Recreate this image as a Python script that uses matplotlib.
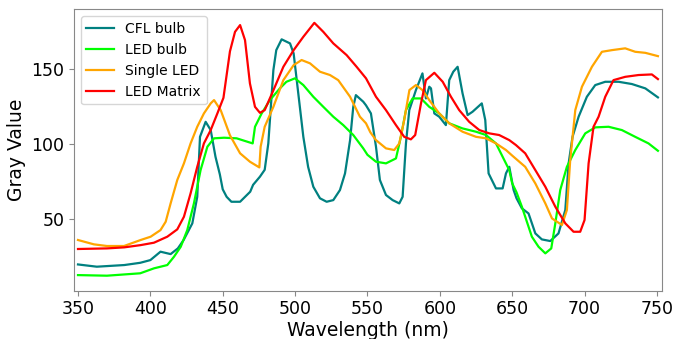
import matplotlib
matplotlib.use("Agg")
import matplotlib.pyplot as plt

cfl_wl = [350, 363, 382, 393, 400, 407, 414, 419, 423, 429, 432.4, 434.3, 438.2, 441.7, 445, 448, 450,
          452.7, 456, 462, 469, 471, 475.7, 479, 481.5, 485, 487, 490.7, 496.5, 499, 502.2, 505.7, 509,
          512.6, 517.2, 521.8, 526.4, 531, 534.5, 538, 540.2, 542, 547.1, 549, 552.4, 555.9, 558.6, 562.8,
          567.4, 572, 574.3, 576.6, 578.9, 583.5, 588, 590.4, 592.7, 593.9, 596.2, 599.6, 604.2, 606.5,
          609.3, 612.3, 615.7, 619.2, 622.6, 629, 631.4, 633.7, 638.8, 643.4, 645.7, 648, 651, 653, 656.7,
          661.3, 666, 670.5, 676.3, 682, 686.7, 689, 691.7, 695.9, 701.6, 707.4, 714.3, 723.5, 732.7, 742, 750.7]
cfl_val = [19.9, 18.4, 19.5, 21, 22.8, 28.4, 26.8, 30.6, 36.2, 47.3, 65, 105, 115, 109.5, 91.7, 80, 70,
           65, 61.7, 61.7, 68.4, 73, 78.4, 83, 100.6, 149.5, 162.8, 170, 167.3, 160.6, 134, 105, 85,
           71.7, 64, 61.7, 62.8, 69.5, 80.6, 102.8, 125, 132.8, 128.4, 126, 120.6, 98.4, 76.2, 66.2,
           62.8, 60.6, 65, 100.6, 122.8, 136.2, 147.3, 130.6, 138.4, 137.3, 120.6, 118.4, 112.8, 142.8,
           148.4, 151.7, 134, 119.5, 121.7, 127.3, 116.2, 80.6, 70.6, 70.6, 80.6, 85, 69.5, 64, 57.3,
           53.9, 40.6, 36.6, 35.5, 40.6, 56.2, 87.3, 105, 118.4, 131.7, 139.5, 141.7, 141.7, 140.2, 137.3, 131.3]

ledb_wl = [350, 370, 393, 402.5, 411.7, 416.3, 421, 425.5, 430.1, 434.7, 439.4, 444, 450.9, 459.6, 470.7,
           472.3, 476.9, 482.6, 489.5, 494, 499.9, 505.7, 512.6, 519.5, 526.4, 533.3, 540.2, 547.1, 550,
           555.9, 562.8, 569.7, 573.1, 576.6, 581.2, 587, 592.7, 599.6, 606.5, 615.7, 625, 631.9, 638.8,
           643.4, 648, 650, 653, 656.7, 663.6, 668.2, 672.9, 677, 679.8, 683.2, 687.8, 693.6, 700.5, 707.4,
           716.6, 725.8, 735, 744.2, 750.7]
ledb_val = [12.8, 12.4, 14, 17.3, 19.5, 25, 31.7, 42.8, 60.6, 82.8, 98.4, 104, 104.4, 104, 100.6,
            111.7, 120.6, 129.5, 137.3, 141.7, 144, 139.5, 131.7, 125, 118.4, 112.8, 106.2, 97.3, 93,
            88.4, 87.3, 90.6, 105, 122.8, 130.6, 130.6, 125, 120.6, 114, 110.6, 108.4, 106.2, 100.6,
            91.7, 82.8, 74, 68, 58.4, 38.4, 31.7, 27.3, 30.6, 47.3, 69.5, 85, 96.2, 107.3, 111.3,
            111.7, 109.5, 105, 100.6, 95.7]

single_wl = [350, 361, 370, 381.8, 393.3, 400.2, 407, 410.6, 414, 418.6, 423.2, 427.8, 432.4, 437, 441.7,
             444, 448.6, 455, 462, 468.8, 475.3, 476.2, 479, 485, 491.9, 499, 504.5, 510.3, 517.2, 524.1,
             529.8, 538, 544.8, 549, 552, 555.9, 562.8, 568.5, 572, 575.4, 579, 583.5, 588, 592.7, 599.6,
             606.5, 615.7, 625, 631.9, 638.8, 645.7, 650, 659, 666, 672.9, 677.5, 684.4, 687.8, 690.1,
             693.6, 698.2, 705.1, 712, 718.9, 728.1, 735, 742, 750.7]
single_val = [36.2, 33.3, 32.2, 32.2, 36.2, 38.4, 42.8, 48.4, 60.6, 76.2, 87.3, 100.6, 111.7, 120.6, 127.3,
              129.5, 122.8, 106, 94, 88.4, 84.6, 98.4, 111.7, 125, 142.8, 152.8, 156.2, 154, 148.4, 146.2,
              142.8, 131.7, 118.4, 114, 108, 102.8, 97.3, 96.2, 100.6, 116.2, 136.2, 139.5, 136.2, 129.5, 120.6,
              114, 108.4, 105, 104, 100.6, 96.2, 92.5, 85, 73.9, 60.6, 50.6, 46.2, 56.2, 89.5,
              122.8, 138.4, 151.7, 161.7, 162.8, 164, 161.7, 161, 158.8]

matrix_wl = [350, 370, 382, 393.3, 402.5, 411.7, 418.6, 423.2, 427.8, 432.4, 437, 441.7, 446.3, 450.5,
             455, 458.5, 462, 465.4, 468.8, 472.3, 475.7, 479, 485, 491.9, 499, 505.7, 513.3, 519.5,
             526.4, 535.6, 542.5, 549, 555.9, 562.8, 569.7, 575.4, 580, 583, 587, 590.4, 596.2, 602,
             607.7, 613.4, 620.3, 627.3, 634.2, 641, 648, 652.6, 659, 666, 672.9, 679.8, 686.7, 692.4,
             697, 700, 702.8, 706.2, 709.7, 714.3, 720, 728.1, 737.3, 746.5, 750.7]
matrix_val = [30.2, 30.6, 31.3, 32.8, 34.4, 38.4, 43.3, 51.7, 67.3, 85, 100.6, 109.5, 120.6, 131,
              162, 175, 179.5, 169.5, 140.6, 125, 121, 122.8, 136, 151.7, 162.8, 171.7, 181, 175,
              167.3, 159.5, 151.7, 144, 131.7, 122.8, 112.8, 105, 103.3, 106.2, 127.3, 142.8, 147.7, 141.7,
              131.7, 122.8, 115, 109.5, 107.3, 106.2, 102.8, 99.5, 94, 82.8, 71.7, 58.4, 47.3, 41.7,
              41.7, 49.5, 87.3, 111.7, 118.4, 131.7, 142.8, 145, 146.2, 146.6, 143.5]

labels = ["CFL bulb", "LED bulb", "Single LED", "LED Matrix"]
colors = ["#008080", "#00ff00", "#ffa500", "#ff0000"]

fig = plt.figure(figsize=(6.91, 3.39), dpi=100)
ax = fig.add_axes([0.107, 0.1425, 0.851, 0.8295])

series = [(cfl_wl, cfl_val), (ledb_wl, ledb_val), (single_wl, single_val), (matrix_wl, matrix_val)]
for (wl, val), lab, col in zip(series, labels, colors):
    ax.plot(wl, val, color=col, lw=1.6, label=lab)

ax.set_xlim(347.2, 753.5)
ax.set_ylim(2.4, 189.9)
ax.set_xticks([350, 400, 450, 500, 550, 600, 650, 700, 750])
ax.set_yticks([50, 100, 150])
ax.tick_params(labelsize=12.5, color="#888888")
for s in ax.spines.values():
    s.set_color("#888888")
ax.set_xlabel("Wavelength (nm)", fontsize=13.5, labelpad=2)
ax.set_ylabel("Gray Value", fontsize=13.5)
ax.legend(loc="upper left", fontsize=10)

fig.savefig("out.png", dpi=100)
